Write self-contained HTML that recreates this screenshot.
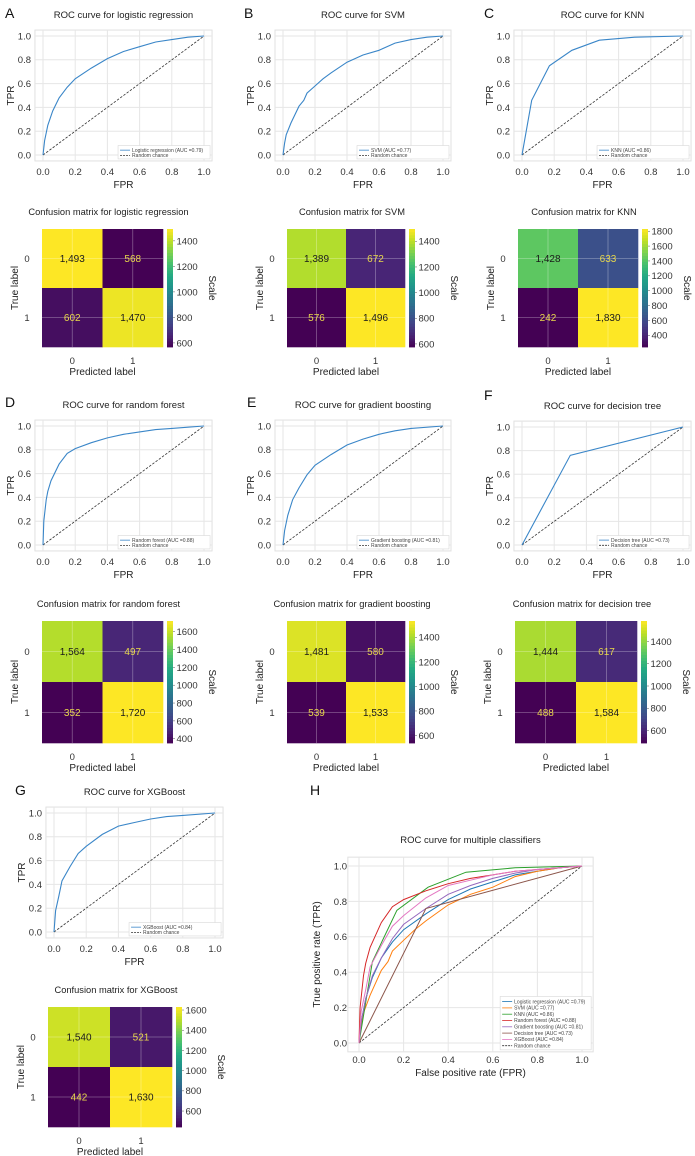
<!DOCTYPE html>
<html><head><meta charset="utf-8"><style>
body{margin:0;background:#fff;}
svg{display:block;font-family:"Liberation Sans",Arial,sans-serif;}
</style></head><body>
<svg id="fig" width="695" height="1156" viewBox="0 0 695 1156"></svg>
<script>
// ---- data ----
const lrFpr=[0,0.01,0.03,0.06,0.1,0.15,0.2,0.3,0.4,0.5,0.6,0.7,0.8,0.9,1];
const lrTpr=[0,0.12,0.25,0.37,0.48,0.57,0.64,0.73,0.81,0.87,0.91,0.95,0.97,0.99,1];
const svmFpr=[0,0.01,0.02,0.05,0.1,0.13,0.15,0.2,0.25,0.3,0.4,0.5,0.6,0.7,0.8,0.9,1];
const svmTpr=[0,0.1,0.17,0.27,0.41,0.46,0.52,0.58,0.64,0.69,0.78,0.84,0.88,0.94,0.97,0.99,1];
const knnFpr=[0,0.06,0.17,0.31,0.48,0.7,1];
const knnTpr=[0,0.46,0.75,0.88,0.965,0.99,1];
const rfFpr=[0,0.005,0.02,0.03,0.05,0.1,0.15,0.2,0.3,0.4,0.5,0.6,0.7,0.8,0.9,1];
const rfTpr=[0,0.2,0.38,0.45,0.54,0.68,0.77,0.81,0.86,0.9,0.93,0.95,0.97,0.98,0.99,1];
const gbFpr=[0,0.01,0.03,0.06,0.1,0.15,0.2,0.3,0.4,0.5,0.6,0.7,0.8,1];
const gbTpr=[0,0.12,0.25,0.38,0.48,0.59,0.67,0.76,0.84,0.89,0.93,0.96,0.98,1];
const dtFpr=[0,0.3,1];
const dtTpr=[0,0.76,1];
const xgbFpr=[0,0.01,0.03,0.05,0.1,0.15,0.2,0.3,0.4,0.5,0.6,0.7,0.8,1];
const xgbTpr=[0,0.18,0.3,0.43,0.55,0.66,0.72,0.82,0.89,0.92,0.95,0.97,0.98,1];
const modelNames=["Logistic regression","SVM","KNN","Random forest","Gradient boosting","Decision tree","XGBoost"];
const modelTitles=["logistic regression","SVM","KNN","random forest","gradient boosting","decision tree","XGBoost"];
const aucValues=["0.79","0.77","0.86","0.88","0.81","0.73","0.84"];
const cmLR=[1493,568,602,1470];
const cmSVM=[1389,672,576,1496];
const cmKNN=[1428,633,242,1830];
const cmRF=[1564,497,352,1720];
const cmGB=[1481,580,539,1533];
const cmDT=[1444,617,488,1584];
const cmXGB=[1540,521,442,1630];
const cbTicksLR=[600,800,1000,1200,1400];
const cbTicksSVM=[600,800,1000,1200,1400];
const cbTicksKNN=[400,600,800,1000,1200,1400,1600,1800];
const cbTicksRF=[400,600,800,1000,1200,1400,1600];
const cbTicksGB=[600,800,1000,1200,1400];
const cbTicksDT=[600,800,1000,1200,1400];
const cbTicksXGB=[600,800,1000,1200,1400,1600];
const rocTicks=[0,0.2,0.4,0.6,0.8,1.0];
const lineColors=["#1f77b4","#ff7f0e","#2ca02c","#d62728","#9467bd","#8c564b","#e377c2"];

const fprs=[lrFpr,svmFpr,knnFpr,rfFpr,gbFpr,dtFpr,xgbFpr];
const tprs=[lrTpr,svmTpr,knnTpr,rfTpr,gbTpr,dtTpr,xgbTpr];
const cms=[cmLR,cmSVM,cmKNN,cmRF,cmGB,cmDT,cmXGB];
const cbts=[cbTicksLR,cbTicksSVM,cbTicksKNN,cbTicksRF,cbTicksGB,cbTicksDT,cbTicksXGB];

// layout
const L=[
 {letter:"A",lx:5,ly:18,rx0:43,rx1:204,ry1:36,ry0:155,mx0:42,mx1:163,my0:229,my1:347},
 {letter:"B",lx:244,ly:18,rx0:283,rx1:443,ry1:36,ry0:155,mx0:287,mx1:405,my0:229,my1:347},
 {letter:"C",lx:484,ly:18,rx0:522,rx1:683,ry1:36,ry0:155,mx0:518,mx1:638,my0:229,my1:347},
 {letter:"D",lx:5,ly:407,rx0:43,rx1:204,ry1:426,ry0:545,mx0:42,mx1:163,my0:621,my1:743},
 {letter:"E",lx:247,ly:407,rx0:283,rx1:443,ry1:426,ry0:545,mx0:287,mx1:405,my0:621,my1:743},
 {letter:"F",lx:484,ly:400,rx0:522,rx1:683,ry1:427,ry0:545,mx0:515,mx1:637,my0:621,my1:743},
 {letter:"G",lx:15,ly:795,rx0:54,rx1:215,ry1:813,ry0:932,mx0:48,mx1:172,my0:1007,my1:1127}
];
const svg=document.getElementById("fig");
const NS="http://www.w3.org/2000/svg";
function mk(tag,attrs,parent,text){const e=document.createElementNS(NS,tag);for(const k in attrs)e.setAttribute(k,attrs[k]);if(text!==undefined)e.textContent=text;(parent||svg).appendChild(e);return e;}
const V=["#440154","#482475","#414487","#355f8d","#2a788e","#21918c","#22a884","#44bf70","#7ad151","#bddf26","#fde725"];
function hx(c){return [1,3,5].map(i=>parseInt(c.substr(i,2),16));}
function viridis(t){t=Math.max(0,Math.min(1,t));const p=t*10,i=Math.min(9,Math.floor(p)),f=p-i;const a=hx(V[i]),b=hx(V[i+1]);return "rgb("+a.map((v,k)=>Math.round(v+(b[k]-v)*f)).join(",")+")";}
function fmt(n){return n.toLocaleString("en-US");}

function drawRoc(g,P,ids,titleText,xl,yl,legendSmall){
  const sx=v=>P.x0+(P.x1-P.x0)*v, sy=v=>P.y0-(P.y0-P.y1)*v;
  const mx=(P.x1-P.x0)*0.05,my=(P.y0-P.y1)*0.05;
  const bx0=P.x0-mx,bx1=P.x1+mx,by0=P.y1-my,by1=P.y0+my;
  const box=mk("rect",{x:bx0,y:by0,width:bx1-bx0,height:by1-by0,fill:"#fff",stroke:"#e0e0e0","stroke-width":1},g);
  
  
  rocTicks.forEach(t=>{
    mk("line",{x1:sx(t),x2:sx(t),y1:by0,y2:by1,stroke:"#e6e6e6","stroke-width":1},g);
    mk("line",{x1:bx0,x2:bx1,y1:sy(t),y2:sy(t),stroke:"#e6e6e6","stroke-width":1},g);
    const xt=mk("text",{x:sx(t),y:P.y0+20,"font-size":P.fs,"text-anchor":"middle",fill:"#333"},g,t.toFixed(1));
    
    
    const yt=mk("text",{x:P.x0-12,y:sy(t)+P.fs*0.36,"font-size":P.fs,"text-anchor":"end",fill:"#333"},g,t.toFixed(1));
    
    
  });
  const rc=mk("line",{x1:sx(0),y1:sy(0),x2:sx(1),y2:sy(1),stroke:"#333","stroke-width":0.8,"stroke-dasharray":"2.5,1.5"},g);
  
  
  ids.forEach(i=>{
    const pts=fprs[i].map((f,k)=>sx(f).toFixed(1)+","+sy(tprs[i][k]).toFixed(1)).join(" ");
    const pl=mk("polyline",{points:pts,fill:"none",stroke:ids.length>1?lineColors[i]:"#3a86c8","stroke-width":ids.length>1?1:1.1},g);
    
    
  });
  const tt=mk("text",{x:(P.x0+P.x1)/2,y:P.ty,"font-size":P.tfs,"text-anchor":"middle",fill:"#222"},g,titleText);
  
  
  const xa=mk("text",{x:(P.x0+P.x1)/2,y:P.y0+33,"font-size":P.afs,"text-anchor":"middle",fill:"#222"},g,xl);
  
  
  const yx=P.yax, yy=(P.y0+P.y1)/2;
  const ya=mk("text",{x:yx,y:yy,"font-size":P.afs,"text-anchor":"middle",fill:"#222",transform:"rotate(-90 "+yx+" "+yy+")"},g,yl);
  
  
  // legend
  const n=ids.length+1, rh=legendSmall?6.3:5.2;
  const lw=P.lw, lh=n*rh+3;
  const lx=bx1-lw-2, ly=by1-lh-2;
  const lg=mk("g",{},g);
  
  
  mk("rect",{x:lx,y:ly,width:lw,height:lh,fill:"#fff",stroke:"#d8d8d8","stroke-width":0.6},lg);
  const entries=ids.map(i=>({c:ids.length>1?lineColors[i]:"#3a86c8",d:null,t:modelNames[i]+" (AUC ="+aucValues[i]+")"}));
  entries.push({c:"#333",d:"2,1",t:"Random chance"});
  entries.forEach((e,k)=>{
    const y=ly+2+rh*(k+0.5);
    const le=mk("g",{},lg);
    
    
    mk("line",{x1:lx+2,x2:lx+12,y1:y,y2:y,stroke:e.c,"stroke-width":0.8,"stroke-dasharray":e.d||"none"},le);
    mk("text",{x:lx+14,y:y+1.7,"font-size":5,fill:"#444"},le,e.t);
  });
}

function drawCm(g,P,i){
  const cm=cms[i],vmin=Math.min(...cm),vmax=Math.max(...cm);
  const w=(P.mx1-P.mx0)/2,h=(P.my1-P.my0)/2;
  const mid=(vmin+vmax)/2;
  cm.forEach((v,k)=>{
    const r=Math.floor(k/2),c=k%2;
    const cell=mk("rect",{x:P.mx0+c*w,y:P.my0+r*h,width:w+0.3,height:h+0.3,fill:viridis((v-vmin)/(vmax-vmin))},g);
    
    
  });
  [0,1].forEach(k=>{
    mk("line",{x1:P.mx0+w*(k+0.5),x2:P.mx0+w*(k+0.5),y1:P.my0,y2:P.my1,stroke:"#fff","stroke-opacity":0.35,"stroke-width":0.8},g);
    mk("line",{x1:P.mx0,x2:P.mx1,y1:P.my0+h*(k+0.5),y2:P.my0+h*(k+0.5),stroke:"#fff","stroke-opacity":0.35,"stroke-width":0.8},g);
  });
  cm.forEach((v,k)=>{
    const r=Math.floor(k/2),c=k%2;
    const t=mk("text",{x:P.mx0+c*w+w/2,y:P.my0+r*h+h/2+3.6,"font-size":10,"text-anchor":"middle",fill:v<mid?"#e8d84a":"#1a1a1a"},g,fmt(v));
    
    
    if(c===0){
      const rl=mk("text",{x:P.mx0-15,y:P.my0+r*h+h/2+3.5,"font-size":9.5,"text-anchor":"middle",fill:"#333"},g,String(r));
      
      
    }
    if(r===0){
      const cl=mk("text",{x:P.mx0+c*w+w/2,y:P.my1+17,"font-size":9.5,"text-anchor":"middle",fill:"#333"},g,String(c));
      
      
    }
  });
  // colorbar
  const cx0=P.mx1+4,cx1=P.mx1+10,N=40;
  const cb=mk("g",{},g);
  
  
  for(let s=0;s<N;s++){
    const y=P.my1-(P.my1-P.my0)*(s+1)/N;
    mk("rect",{x:cx0,y:y,width:cx1-cx0,height:(P.my1-P.my0)/N+0.4,fill:viridis((s+0.5)/N)},cb);
  }
  cbts[i].forEach(v=>{
    const y=P.my1-(P.my1-P.my0)*(v-vmin)/(vmax-vmin);
    mk("line",{x1:cx1,x2:cx1+2,y1:y,y2:y,stroke:"#555","stroke-width":0.5},cb);
    mk("text",{x:cx1+3.5,y:y+3.4,"font-size":9.5,fill:"#333"},cb,String(v));
  });
  const sxp=P.mx1+46,syp=(P.my0+P.my1)/2;
  const sc=mk("text",{x:sxp,y:syp,"font-size":10,"text-anchor":"middle",fill:"#222",transform:"rotate(90 "+sxp+" "+syp+")"},g,"Scale");
  
  
  const tt=mk("text",{x:(P.mx0+P.mx1)/2+6,y:P.my0-14,"font-size":9.3,"text-anchor":"middle",fill:"#222"},g,"Confusion matrix for "+modelTitles[i]);
  
  
  const px=mk("text",{x:(P.mx0+P.mx1)/2,y:P.my1+28,"font-size":10,"text-anchor":"middle",fill:"#222"},g,"Predicted label");
  
  
  const yx=P.mx0-24,yy=(P.my0+P.my1)/2;
  const py=mk("text",{x:yx,y:yy,"font-size":10,"text-anchor":"middle",fill:"#222",transform:"rotate(-90 "+yx+" "+yy+")"},g,"True label");
  
  
}

L.forEach((p,i)=>{
  const g=mk("g",{});
  
  
  const lt=mk("text",{x:p.lx,y:p.ly,"font-size":14,fill:"#111"},g,p.letter);
  
  
  drawRoc(g,{x0:p.rx0,x1:p.rx1,y1:p.ry1,y0:p.ry0,fs:9.5,tfs:9.5,afs:10,ty:p.ry1-18,yax:p.rx0-29,lw:92},[i],"ROC curve for "+modelTitles[i],"FPR","TPR",false);
  drawCm(g,{mx0:p.mx0,mx1:p.mx1,my0:p.my0,my1:p.my1},i);
});
// Panel H
const gh=mk("g",{});


const hl=mk("text",{x:310,y:795,"font-size":14,fill:"#111"},gh,"H");


drawRoc(gh,{x0:359,x1:582,y1:866,y0:1043,fs:9.5,tfs:9.5,afs:10,ty:843,yax:320,lw:91},[0,1,2,3,4,5,6],"ROC curve for multiple classifiers","False positive rate (FPR)","True positive rate (TPR)",true);
</script>
</body></html>
